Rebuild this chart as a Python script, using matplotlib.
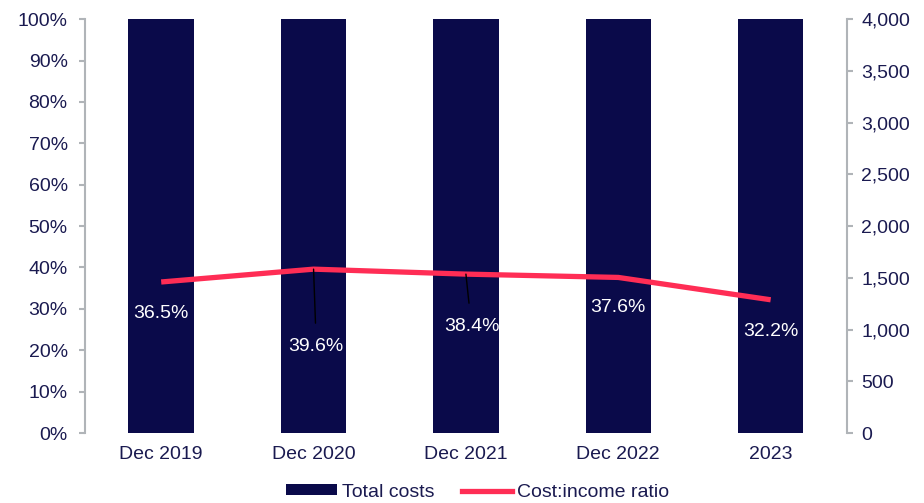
import matplotlib.pyplot as plt
from matplotlib.patches import Patch
from matplotlib.lines import Line2D

plt.rcParams['font.family'] = ['Liberation Sans', 'DejaVu Sans']

# Data
categories = ["Dec 2019", "Dec 2020", "Dec 2021", "Dec 2022", "2023"]
total_costs = [4600, 4700, 4800, 4900, 4700]      # bars run past the 4,000 axis top
cost_income = [36.5, 39.6, 38.4, 37.6, 32.2]      # %
labels = ["36.5%", "39.6%", "38.4%", "37.6%", "32.2%"]

navy = "#0a0a4a"
red = "#ff2d55"
grey = "#b0b4b8"
text_c = "#1a1a50"
fs = 14

fig = plt.figure(figsize=(9.24, 5.03), dpi=100)
ax = fig.add_axes([0.092, 0.139, 0.8245, 0.823])
ax2 = ax.twinx()

x = range(len(categories))
ax2.bar(x, total_costs, width=0.43, color=navy)
ax2.set_ylim(0, 4000)
ax2.set_yticks(range(0, 4001, 500))
ax2.set_yticklabels([f"{v:,}" for v in range(0, 4001, 500)])

ax.plot(x, cost_income, color=red, lw=3.8, solid_capstyle='butt', zorder=3)
ax.set_ylim(0, 100)
ax.set_yticks(range(0, 101, 10))
ax.set_yticklabels([f"{v}%" for v in range(0, 101, 10)])
ax.set_xlim(-0.5, 4.5)
ax.set_xticks(list(x))
ax.set_xticklabels(categories)

ax.set_zorder(ax2.get_zorder() + 1)
ax.patch.set_visible(False)

# data labels (offsets in points from the line point)
offsets = [(0, -23), (2, -56), (4, -38), (0, -22), (0, -23)]
leaders = [False, True, True, False, False]
for i, (v, lab) in enumerate(zip(cost_income, labels)):
    dx, dy = offsets[i]
    ax.annotate(lab, (i, v), xytext=(dx, dy), textcoords='offset points',
                ha='center', va='center', color='white', fontsize=fs,
                arrowprops=dict(arrowstyle='-', color='black', lw=1,
                                shrinkA=9, shrinkB=0) if leaders[i] else None,
                zorder=4)

for a in (ax, ax2):
    for s in ('top', 'bottom'):
        a.spines[s].set_visible(False)
    a.spines['left'].set_color(grey)
    a.spines['right'].set_color(grey)
    a.spines['left'].set_linewidth(1.5)
    a.spines['right'].set_linewidth(1.5)
    a.tick_params(axis='y', colors=grey, labelcolor=text_c, labelsize=fs,
                  length=4.5, width=1.5)
    a.tick_params(axis='x', length=0, labelcolor=text_c, labelsize=fs, pad=9)
ax.tick_params(axis='y', pad=8)
ax2.tick_params(axis='y', pad=6)
ax.spines['right'].set_visible(False)
ax2.spines['left'].set_visible(False)

handles = [Patch(facecolor=navy, label="Total costs"),
           Line2D([0], [0], color=red, lw=3.8, label="Cost:income ratio")]
leg = fig.legend(handles=handles, loc='lower center', bbox_to_anchor=(0.517, -0.03),
                 ncol=2, frameon=False, fontsize=fs, handlelength=2.6,
                 handleheight=0.45, handletextpad=0.25, columnspacing=1.4)
for t in leg.get_texts():
    t.set_color(text_c)

fig.savefig("out.png", dpi=100)
